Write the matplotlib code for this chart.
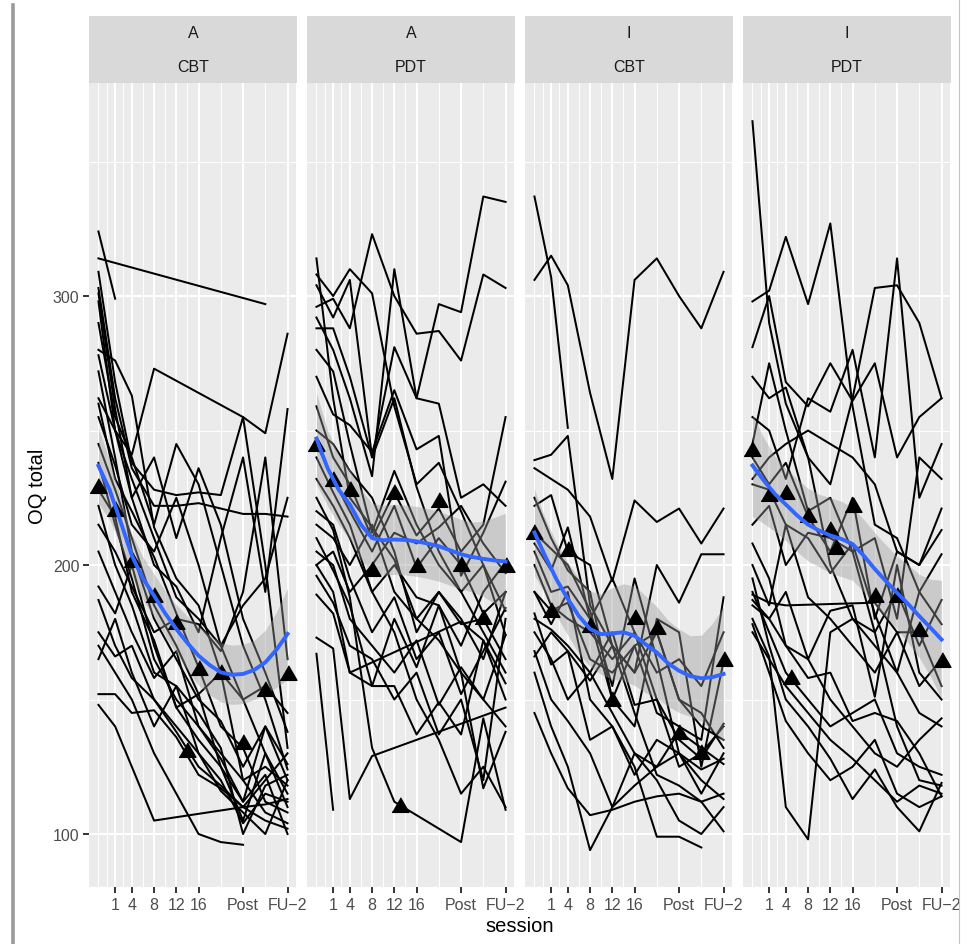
import matplotlib.pyplot as plt
import numpy as np
from matplotlib.lines import Line2D

plt.rcParams['font.family'] = ['Liberation Sans', 'DejaVu Sans']

N = None

# ---- data ----------------------------------------------------------------
sessions = [-2, 1, 4, 8, 12, 16, 20, 24, 28, 32]
tick_pos = [1, 4, 8, 12, 16, 24, 32]
tick_lab = ['1', '4', '8', '12', '16', 'Post', 'FU−2']
minor_pos = [-2, -0.5, 2.5, 6, 10, 14, 20, 28, 33.5]
facet_top = ['A', 'A', 'I', 'I']
facet_bot = ['CBT', 'PDT', 'CBT', 'PDT']

# one row per patient, values at the sessions above (None = missing)
oq_a_cbt = [
    [324, 299],
    [314, N, N, N, N, N, N, N, 297],
    [262, 250, 241, 273, N, N, N, 255, 249, 286],
    [309, 268, 238, 228, 226, 227, 226, 255, 200, 132],
    [303, 262, 236, 222, 222, 223, N, 219, 219, 218],
    [301, 258, 225, 200, 192, 175, 210, 240, 190, 258],
    [298, 250, 232, 210, 188, 180, 170, 185, 195, 225],
    [290, 255, 240, 215, 245, 230, 200, 170, 150, 124],
    [280, 276, 263, 214, 195, 185, 160, 150, 155, 145],
    [278, 250, 225, 240, 210, 236, 215, 180, 160, 138],
    [272, 240, 205, 180, 165, 150, 142, 125, 140, 120],
    [260, 232, 220, 203, 182, 162, 140, 132, 112, 108],
    [255, 237, 215, 205, 225, 200, 170, 150, 130, 110],
    [245, 228, 210, 185, 170, 152, 160, 120, 125, 118],
    [238, 215, 195, 165, 150, 140, 128, 112, 122, 100],
    [228, 218, 190, 172, 147, 135, 125, 105, 130, 115],
    [222, 200, 185, 160, 155, 145, 132, 100, 118, 122],
    [215, 205, 192, 175, 180, 178, 168, 190, 240, 165],
    [205, 190, 175, 158, 168, 140, 130, 120, 108, 104],
    [192, 182, 200, 170, 147, 152, 125, 112, 140, 126],
    [187, 170, 158, 150, 138, 125, 118, 110, 105, 102],
    [175, 166, 170, 150, 140, 130, 120, 104, 115, 112],
    [165, 180, 160, 140, 155, 130, 116, 108, 100, 120],
    [152, 152, 145, 146, 136, 122, 117, 110, 120, 130],
    [148, 140, 125, 105, N, N, N, 110, 111, 113],
    [170, 160, 150, 130, 115, 100, 97, 96],
]
oq_a_pdt = [
    [314, 262, 225, 214, 202, 180, 172, 160, 150, 140],
    [308, 300, 310, 301, 259, 230, 238, 220, 200, 183],
    [304, 292, 306, 240, 262, 229, 205, 190, 200, 174],
    [296, 299, 288, 323, 300, 286, 287, 276, 308, 303],
    [292, 280, 262, 233, 310, 262, 260, 225, 230, 222],
    [288, 288, 270, 240, 281, 262, 297, 294, 337, 335],
    [270, 256, 252, 242, 265, 243, 248, 196, 212, 231],
    [259, 240, 230, 210, 227, 211, 221, 205, 215, 255],
    [245, 232, 220, 205, 222, 199, 210, 200, 182, 190],
    [232, 222, 210, 190, 200, 188, 185, 170, 190, 201],
    [220, 215, 195, 175, 188, 165, 175, 152, 168, 184],
    [205, 200, 180, 170, 160, 172, 148, 162, 150, 174],
    [200, 205, 190, 200, 212, 208, 214, 222, 208, 197],
    [189, 182, 160, 155, 180, 162, 185, 160, 117, 138],
    [173, 169, 113, 129, N, N, N, N, 144, 147],
    [167, 109],
    [210, 198, 185, 155, 155, 137, 149, 137, 172, 156],
    [215, 210, 200, 215, 190, 180, 190, 178, 180, 165],
    [225, 213, 188, 132, 112, N, N, 97, 143, 109],
    [240, 227, 215, 190, 175, 150, 135, 115, 125, 110],
    [250, 245, 235, 225, 205, 175, 190, 180, 165, 190],
    [280, 272, 245, 212, 235, 215, 200, 190, 175, 160],
    [200, 190, 160, N, N, N, N, 179, 172, 150],
    [196, 186, 170, 165, 150, 160, 137, 150, 120, 180],
]
oq_i_cbt = [
    [337, 307, 251],
    [306, 315, 304, 264, 232, 306, 314, 300, 288, 309],
    [239, 241, 248, 185, 170, 160, 175, 150, 145, 132],
    [236, 232, 228, 218, 194, 224, 216, 221, 208, 221],
    [222, 226, 205, 200, 170, 160, 200, 186, 204, 204],
    [225, 210, 198, 190, 150, 170, 175, 150, 140, 135],
    [212, 206, 200, 183, 155, 195, 165, 130, 115, 130],
    [208, 198, 214, 180, 150, 140, 180, 175, 125, 164],
    [205, 190, 192, 180, 195, 175, 150, 135, 128, 141],
    [200, 185, 180, 175, 165, 175, 160, 165, 155, 175],
    [190, 183, 186, 165, 160, 170, 145, 140, 135, 188],
    [180, 176, 170, 160, 175, 148, 150, 125, 130, 140],
    [168, 150, 142, 130, 110, 130, 120, 105, 100, 110],
    [166, 175, 168, 135, 140, 125, 99, 99, 95],
    [145, 130, 117, 107, 109, 112, 114, 115, 112, 101],
    [160, 140, 125, 94, 110, 118, 125, 130, 124, 128],
    [182, 163, 168, 157, 170, 145, 122, 118, 112, 115],
    [190, 178, 190, 150, 140, 122, 135, 130, 120, 113],
    [175, 165, 150, 160, 145, 130, 125, 138, 132, 126],
]
oq_i_pdt = [
    [365, 290, 260, 240, 200, 180, 175, 140, 120, 118],
    [298, 302, 322, 297, 327, 259, 215, 210, 190, 178],
    [281, 300, 268, 259, 275, 261, 275, 240, 255, 262],
    [270, 262, 266, 240, 230, 262, 303, 304, 290, 262],
    [255, 250, 232, 262, 257, 280, 240, 314, 225, 245],
    [245, 275, 250, 220, 225, 205, 210, 180, 240, 232],
    [240, 230, 238, 218, 205, 225, 180, 205, 200, 213],
    [230, 228, 215, 210, 197, 208, 182, 160, 190, 204],
    [215, 222, 200, 212, 210, 205, 175, 190, 170, 187],
    [200, 185, 215, 188, 180, 170, 160, 175, 155, 165],
    [189, 186, 185, N, N, N, 186, 175, 175, 155],
    [187, 180, 190, 165, 183, 185, 151, 200, 160, 150],
    [185, 180, 170, 158, 160, 142, 145, 142, 130, 114],
    [180, 166, 110, 98, 175, 180, 170, 160, 145, 140],
    [195, 170, 150, 140, 128, 113, 124, 110, 101, 119],
    [178, 160, 142, 130, 120, 125, 135, 115, 110, 114],
    [175, 165, 155, 145, 135, 128, 120, 112, 118, 115],
    [190, 175, 160, 150, 140, 145, 150, 130, 125, 122],
    [208, 195, 170, 165, 150, 140, 130, 125, 135, 143],
    [232, 240, 245, 250, 245, 240, 230, 205, 200, 221],
]
subjects = [oq_a_cbt, oq_a_pdt, oq_i_cbt, oq_i_pdt]

# black triangles
tri_s = [
    [-2, 1, 4, 8, 12, 14, 16, 20, 24, 28, 32],
    [-2, 1, 4, 8, 12, 13, 16, 20, 24, 28, 32],
    [-2, 1, 4, 8, 12, 16, 20, 24, 28, 32],
    [-2, 1, 4, 5, 8, 12, 13, 16, 20, 24, 28, 32],
]
tri_v = [
    [228.5, 220, 201, 188, 178, 130.5, 161, 159.5, 133.5, 153, 159],
    [244.4, 231.4, 227.7, 197.9, 226.4, 110, 199.1, 223.3, 199.8, 180, 199.1],
    [211.5, 182.4, 205.3, 176.8, 149.6, 179.9, 176.2, 137.2, 129.8, 164.4],
    [242.4, 225.8, 226.4, 157.7, 217.8, 212.8, 206, 221.5, 188, 188, 175.6, 163.9],
]

# loess fit and its half confidence band
smooth_s = [-2, 0, 2, 4, 6, 8, 10, 12, 14, 16, 18, 20, 22, 24, 26, 28, 30, 32]
smooth_v = [
    [236.9, 228, 216, 203.5, 195, 188.6, 182, 176.2, 171, 166.3, 162.8, 160.1, 159.2, 159.5, 161, 163.8, 168.5, 174.4],
    [247, 236, 228, 222.5, 215, 210, 209.2, 209.5, 209.3, 208.8, 208, 207, 205.5, 204, 203, 202.3, 201.7, 201.3],
    [212.1, 203, 194.5, 187.4, 181, 176.2, 174.3, 174.6, 175, 173.7, 170.5, 167.5, 163.5, 160.7, 158.7, 157.9, 158.3, 159.5],
    [237, 231.5, 226.5, 222.5, 218.5, 215, 212.8, 211, 209.7, 207.8, 203.5, 198.5, 194, 189.7, 185.5, 181, 176.7, 172.3],
]
smooth_se = [
    [14, 11, 9, 8, 8, 8, 8.5, 9, 10, 11, 11, 11, 11, 11, 11, 12, 14, 17],
    [17, 14, 13, 13, 13, 13, 13, 13, 13, 13, 13, 13, 13, 13, 13, 14, 16, 18],
    [16, 14, 13.5, 13.5, 14, 14, 15, 17, 18, 18.5, 18, 17, 16, 15.5, 15, 16, 20, 25],
    [19, 16, 14, 13.5, 13.5, 13.5, 13.5, 14, 14, 13.5, 13.5, 13.5, 13.5, 13.5, 14.5, 15.5, 18, 22],
]

# ---- figure ----------------------------------------------------------------
W, H = 970, 945
fig = plt.figure(figsize=(W / 100, H / 100), dpi=100)
fig.patch.set_facecolor('white')


def fx(px):
    return px / W


def fy(py):
    return 1 - py / H


panel_left = [89, 307, 525, 743]
panel_w = 208
p_top, p_bot, s_top = 84, 888, 17
tri_marker = [(-1, -0.577), (1, -0.577), (0, 1.155)]

for i in range(4):
    left = panel_left[i]
    ax = fig.add_axes([fx(left), fy(p_bot), panel_w / W, (p_bot - p_top) / H])
    ax.set_facecolor('#EBEBEB')
    for sp in ax.spines.values():
        sp.set_visible(False)
    ax.set_xlim(-3.7, 33.7)
    ax.set_ylim(80.3, 379.2)
    ax.set_xticks(tick_pos)
    ax.set_xticklabels(tick_lab)
    ax.set_xticks(minor_pos, minor=True)
    ax.set_yticks([100, 200, 300])
    ax.set_yticks([150, 250, 350], minor=True)
    ax.set_axisbelow(True)
    ax.grid(which='major', color='white', lw=1.4)
    ax.grid(which='minor', color='white', lw=0.7)
    ax.tick_params(which='minor', length=0)
    ax.tick_params(which='major', length=4.5, width=1.4, color='#333333',
                   labelsize=11.5, labelcolor='#4D4D4D', pad=2.5)
    if i > 0:
        ax.tick_params(axis='y', left=False, labelleft=False)

    for row in subjects[i]:
        xs = [s for s, v in zip(sessions, row) if v is not None]
        ys = [v for v in row if v is not None]
        ax.plot(xs, ys, color='black', lw=1.45, zorder=2)

    sv = np.array(smooth_v[i])
    se = np.array(smooth_se[i])
    ax.fill_between(smooth_s, sv - se, sv + se, color='#999999', alpha=0.4,
                    lw=0, zorder=3)
    ax.plot(tri_s[i], tri_v[i], ls='none', marker=tri_marker, ms=14,
            color='black', zorder=4)
    ax.plot(smooth_s, sv, color='#3366FF', lw=2.8, zorder=5)

    # facet strip
    sax = fig.add_axes([fx(left), fy(p_top), panel_w / W, (p_top - s_top) / H])
    sax.set_facecolor('#D9D9D9')
    sax.set_xticks([])
    sax.set_yticks([])
    for sp in sax.spines.values():
        sp.set_visible(False)
    sax.text(0.5, 0.76, facet_top[i], ha='center', va='center', fontsize=11.5,
             color='#1A1A1A', transform=sax.transAxes)
    sax.text(0.5, 0.25, facet_bot[i], ha='center', va='center', fontsize=11.5,
             color='#1A1A1A', transform=sax.transAxes)

fig.text(fx(520), fy(927), 'session', ha='center', va='center', fontsize=14.5)
fig.text(fx(38), fy(486), 'OQ total', ha='center', va='center', fontsize=14.5,
         rotation=90)

# screenshot frame edges
fig.add_artist(Line2D([fx(13), fx(13)], [fy(6), 0], color='#9a9a9a', lw=2.6,
                      transform=fig.transFigure))
fig.add_artist(Line2D([fx(959.5), fx(959.5)], [1, 0], color='#c4c4c4', lw=0.8,
                      transform=fig.transFigure))

fig.savefig('out.png', dpi=100)
